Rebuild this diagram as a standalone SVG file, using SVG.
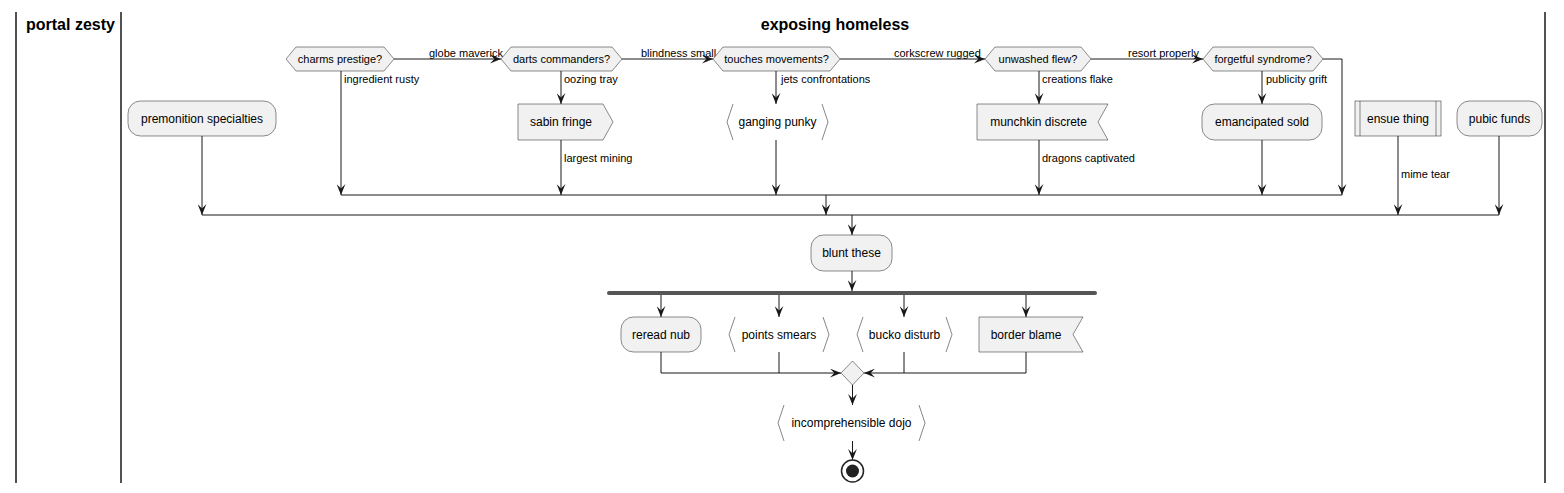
<svg xmlns="http://www.w3.org/2000/svg" width="1564" height="493" viewBox="0 0 1564 493">
<style>
.lane{stroke:#181818;stroke-width:1.5;fill:none}
.title{font-family:"Liberation Sans",Arial,sans-serif;font-size:16px;font-weight:bold;fill:#000}
.node{fill:#F1F1F1;stroke:#181818;stroke-width:0.5}
.br{fill:none;stroke:#888;stroke-width:1}
.t{font-family:"Liberation Sans",Arial,sans-serif;font-size:12px;fill:#000;text-anchor:middle}
.dt{font-family:"Liberation Sans",Arial,sans-serif;font-size:11px;fill:#000;text-anchor:middle}
.lbl{font-family:"Liberation Sans",Arial,sans-serif;font-size:11px;fill:#000}
.e{fill:none;stroke:#181818;stroke-width:1}
.ea{fill:none;stroke:#181818;stroke-width:1;marker-end:url(#arr)}
</style>
<defs>
<marker id="arr" viewBox="0 0 10 8" refX="10" refY="4" markerWidth="11" markerHeight="9" markerUnits="userSpaceOnUse" orient="auto">
<path d="M0,0 L10,4 L0,8 L4,4 Z" fill="#181818"/>
</marker>
</defs>
<rect width="1564" height="493" fill="#FFFFFF"/>
<g id="lanes">
<line class="lane" x1="16" y1="12" x2="16" y2="483"/>
<line class="lane" x1="121" y1="12" x2="121" y2="483"/>
<line class="lane" x1="1545" y1="12" x2="1545" y2="483"/>
<text class="title" x="26" y="30">portal zesty</text>
<text class="title" x="835" y="30" text-anchor="middle">exposing homeless</text>
</g>
<g id="connectors">
<path class="ea" d="M394,59 H501"/>
<path class="ea" d="M622,59 H713"/>
<path class="ea" d="M840,59 H985"/>
<path class="ea" d="M1091,59 H1203"/>
<path class="ea" d="M341,71 V195"/>
<path class="ea" d="M561,71 V104"/>
<path class="ea" d="M776,71 V104"/>
<path class="ea" d="M1039,71 V104"/>
<path class="ea" d="M1262,71 V104"/>
<path class="ea" d="M1323,59 H1342 V195"/>
<path class="ea" d="M561,140 V195"/>
<path class="ea" d="M776,140 V195"/>
<path class="ea" d="M1039,140 V195"/>
<path class="ea" d="M1262,140 V195"/>
<path class="e" d="M341,195 H1342"/>
<path class="ea" d="M826,195 V215"/>
<path class="ea" d="M202,136 V215"/>
<path class="ea" d="M1398,136 V215"/>
<path class="ea" d="M1499,136 V215"/>
<path class="e" d="M202,215 H1499"/>
<path class="ea" d="M852,215 V235"/>
<path class="ea" d="M852,271 V291"/>
<path class="ea" d="M661,295 V317"/>
<path class="ea" d="M779,295 V317"/>
<path class="ea" d="M904,295 V317"/>
<path class="ea" d="M1026,295 V317"/>
<path class="ea" d="M661,352 V373 H841"/>
<path class="e" d="M779,352 V373"/>
<path class="ea" d="M1026,352 V373 H864"/>
<path class="e" d="M904,352 V373"/>
<path class="ea" d="M852.5,385 V405"/>
<path class="ea" d="M852.5,441 V460"/>
<text class="lbl" x="429" y="57">globe maverick</text>
<text class="lbl" x="641" y="57">blindness small</text>
<text class="lbl" x="894" y="57">corkscrew rugged</text>
<text class="lbl" x="1128" y="57">resort properly</text>
<text class="lbl" x="344" y="83">ingredient rusty</text>
<text class="lbl" x="564" y="83">oozing tray</text>
<text class="lbl" x="781" y="83">jets confrontations</text>
<text class="lbl" x="1042" y="83">creations flake</text>
<text class="lbl" x="1266" y="83">publicity grift</text>
<text class="lbl" x="564" y="162">largest mining</text>
<text class="lbl" x="1042" y="162">dragons captivated</text>
<text class="lbl" x="1401" y="178">mime tear</text>
</g>
<g id="charms_prestige">
<polygon class="node" points="286,59 296,47 384,47 394,59 384,71 296,71"/>
<text class="dt" x="340" y="63">charms prestige?</text>
</g>
<g id="darts_commanders">
<polygon class="node" points="501,59 511,47 612,47 622,59 612,71 511,71"/>
<text class="dt" x="561.5" y="63">darts commanders?</text>
</g>
<g id="touches_movements">
<polygon class="node" points="713,59 723,47 830,47 840,59 830,71 723,71"/>
<text class="dt" x="776.5" y="63">touches movements?</text>
</g>
<g id="unwashed_flew">
<polygon class="node" points="985,59 995,47 1081,47 1091,59 1081,71 995,71"/>
<text class="dt" x="1038" y="63">unwashed flew?</text>
</g>
<g id="forgetful_syndrome">
<polygon class="node" points="1203,59 1213,47 1313,47 1323,59 1313,71 1213,71"/>
<text class="dt" x="1263" y="63">forgetful syndrome?</text>
</g>
<g id="premonition_specialties">
<rect class="node" x="128" y="101" width="148" height="35" rx="12.5"/>
<text class="t" x="202" y="123">premonition specialties</text>
</g>
<g id="sabin_fringe">
<polygon class="node" points="518,104 603,104 613,122 603,140 518,140"/>
<text class="t" x="561" y="126">sabin fringe</text>
</g>
<g id="ganging_punky">
<polyline class="br" points="733,104 727,122 733,140"/>
<polyline class="br" points="822,104 828,122 822,140"/>
<text class="t" x="777.5" y="126">ganging punky</text>
</g>
<g id="munchkin_discrete">
<polygon class="node" points="977,104 1108,104 1098,122 1108,140 977,140"/>
<text class="t" x="1038.5" y="126">munchkin discrete</text>
</g>
<g id="emancipated_sold">
<rect class="node" x="1202" y="104" width="120" height="36" rx="12.5"/>
<text class="t" x="1262" y="126">emancipated sold</text>
</g>
<g id="ensue_thing">
<rect class="node" x="1355" y="101" width="86" height="35"/>
<line class="node" x1="1360" y1="101" x2="1360" y2="136"/>
<line class="node" x1="1436" y1="101" x2="1436" y2="136"/>
<text class="t" x="1398" y="123">ensue thing</text>
</g>
<g id="pubic_funds">
<rect class="node" x="1457" y="101" width="85" height="35" rx="12.5"/>
<text class="t" x="1499.5" y="123">pubic funds</text>
</g>
<g id="blunt_these">
<rect class="node" x="811" y="235" width="81" height="36" rx="12.5"/>
<text class="t" x="851.5" y="257">blunt these</text>
</g>
<g id="fork">
<rect x="607" y="291" width="490" height="4" rx="2" fill="#555555"/>
</g>
<g id="reread_nub">
<rect class="node" x="621" y="317" width="80" height="35" rx="12.5"/>
<text class="t" x="661" y="339">reread nub</text>
</g>
<g id="points_smears">
<polyline class="br" points="735,317 729,334.5 735,352"/>
<polyline class="br" points="823,317 829,334.5 823,352"/>
<text class="t" x="779" y="339">points smears</text>
</g>
<g id="bucko_disturb">
<polyline class="br" points="863,317 857,334.5 863,352"/>
<polyline class="br" points="946,317 952,334.5 946,352"/>
<text class="t" x="904.5" y="339">bucko disturb</text>
</g>
<g id="border_blame">
<polygon class="node" points="979,317 1083,317 1073,334.5 1083,352 979,352"/>
<text class="t" x="1026" y="339">border blame</text>
</g>
<g id="merge">
<polygon class="node" points="852.5,361 864,373 852.5,385 841,373"/>
</g>
<g id="incomprehensible_dojo">
<polyline class="br" points="784,405 778,423 784,441"/>
<polyline class="br" points="919,405 925,423 919,441"/>
<text class="t" x="851.5" y="427">incomprehensible dojo</text>
</g>
<g id="end">
<circle cx="852.5" cy="471" r="11" fill="none" stroke="#222222" stroke-width="1.5"/>
<circle cx="852.5" cy="471" r="6.5" fill="#222222"/>
</g>
</svg>
